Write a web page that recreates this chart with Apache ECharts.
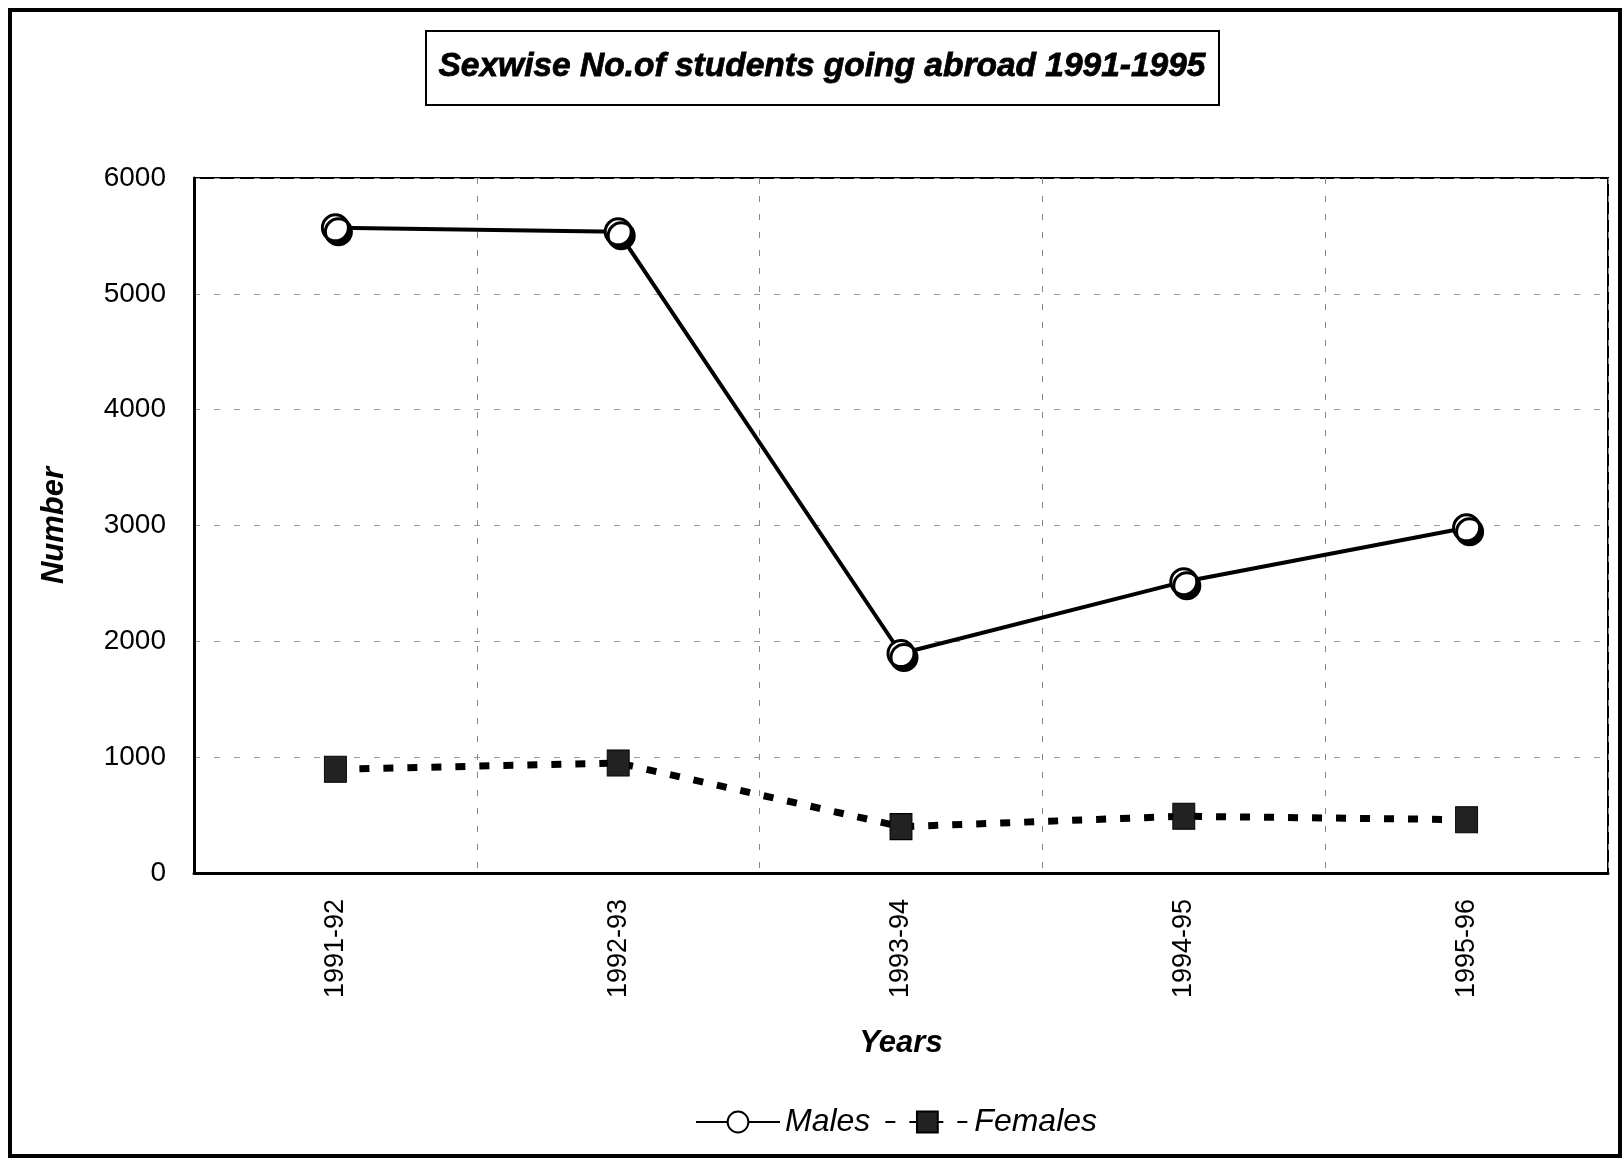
<!DOCTYPE html>
<html>
<head>
<meta charset="utf-8">
<script src="https://cdn.jsdelivr.net/npm/echarts@6/dist/echarts.min.js"></script>
<style>html,body{margin:0;padding:0;background:#fff}#c{width:1624px;height:1159px}</style>
</head>
<body>
<div id="c"></div>
<script>
const categories = ['1991-92', '1992-93', '1993-94', '1994-95', '1995-96'];
const males = [5570, 5535, 1895, 2515, 2980];
const females = [895, 950, 400, 490, 460];
const yTicks = [0, 1000, 2000, 3000, 4000, 5000, 6000];
const titleText = 'Sexwise No.of students going abroad 1991-1995';

const chart = echarts.init(document.getElementById('c'));
const font = 'Liberation Sans, Arial, sans-serif';
chart.setOption({
  backgroundColor: '#fff',
  animation: false,
  graphic: [
    { type: 'rect', shape: { x: 10, y: 10, width: 1610, height: 1146 }, style: { fill: 'none', stroke: '#000', lineWidth: 4 } },
    { type: 'rect', shape: { x: 426, y: 31, width: 793, height: 74 }, style: { fill: '#fff', stroke: '#000', lineWidth: 2 } },
    { type: 'text', x: 822, y: 67, style: { text: titleText, fontFamily: font, fontSize: 33.5, fontWeight: 'bold', fontStyle: 'italic', fill: '#000', align: 'center', verticalAlign: 'middle', stroke: '#000', lineWidth: 0.8 } }
  ],
  grid: { left: 194, right: 16, top: 178, bottom: 286, show: true, borderColor: '#000', borderWidth: 2 },
  legend: {
    bottom: 16, left: 690,
    itemWidth: 84, itemHeight: 26, itemGap: 14,
    textStyle: { fontFamily: font, fontSize: 32, fontStyle: 'italic', color: '#000' },
    data: ['Males', 'Females']
  },
  xAxis: {
    type: 'category', data: categories, boundaryGap: true,
    name: 'Years', nameLocation: 'middle', nameGap: 155,
    nameTextStyle: { fontFamily: font, fontSize: 31, fontWeight: 'bold', fontStyle: 'italic', color: '#000' },
    axisLine: { lineStyle: { color: '#000', width: 3 } },
    axisTick: { show: false },
    axisLabel: { rotate: 90, margin: 26, fontFamily: font, fontSize: 27, color: '#000' },
    splitLine: { show: true, interval: 0, lineStyle: { color: '#888', type: [6, 12], width: 1 } }
  },
  yAxis: {
    type: 'value', min: 0, max: 6000, interval: 1000,
    name: 'Number', nameLocation: 'middle', nameGap: 124, nameRotate: 90,
    nameTextStyle: { fontFamily: font, fontSize: 31, fontWeight: 'bold', fontStyle: 'italic', color: '#000' },
    axisLine: { show: true, lineStyle: { color: '#000', width: 3 } },
    axisTick: { show: false },
    axisLabel: { margin: 28, fontFamily: font, fontSize: 28, color: '#000',
      formatter: v => yTicks.includes(v) ? String(v) : '' },
    splitLine: { show: true, lineStyle: { color: '#999', type: [6, 14], width: 1 } }
  },
  series: [
    {
      name: 'Males', type: 'line', data: males,
      symbol: 'circle', symbolSize: 26,
      lineStyle: { color: '#000', width: 4 },
      itemStyle: { color: '#fff', borderColor: '#000', borderWidth: 3, shadowColor: '#000', shadowOffsetX: 3, shadowOffsetY: 4, shadowBlur: 0 },
      z: 3
    },
    {
      name: 'Females', type: 'line', data: females,
      symbol: 'rect', symbolSize: [22, 26],
      lineStyle: { color: '#000', width: 7, type: [10, 14] },
      itemStyle: { color: '#222', borderColor: '#000', borderWidth: 1 },
      z: 2
    }
  ]
});
</script>
</body>
</html>
